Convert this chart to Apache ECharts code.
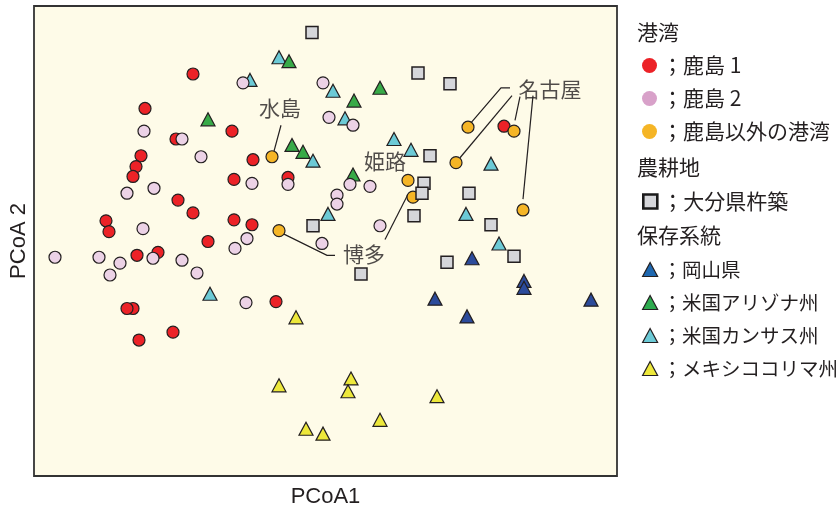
<!DOCTYPE html>
<html>
<head>
<meta charset="utf-8">
<script src="https://cdn.jsdelivr.net/npm/echarts@6/dist/echarts.min.js"></script>
<style>
  html, body { margin: 0; padding: 0; background: #ffffff; }
  #chart { width: 836px; height: 513px; }
</style>
</head>
<body>
<div id="chart"></div>
<script>
// PCoA scores (arbitrary units: axis 1 spans 0–583, axis 2 spans 0–477)
const kashima1 = [
  [159,408],[111,373],[198,350],[142,342],[107,325],[102,314],[99,304],[219,321],
  [144,280],[159,267],[200,301],[254,303],[72,259],[75,248],[200,260],[218,255],
  [174,238],[103,224],[124,227],[242,177],[99,170],[93,170],[139,146],[105,138],
  [470,355]
];
const kashima2 = [
  [110,350],[148,342],[167,324],[209,399],[289,399],[295,364],[319,356],[93,287],
  [120,292],[109,251],[218,297],[254,296],[316,296],[336,294],[303,285],[303,276],
  [346,254],[21,222],[65,222],[86,216],[76,204],[119,221],[148,219],[163,206],
  [213,241],[201,231],[288,236],[212,176]
];
const otherPorts = [
  [238,324],[374,300],[379,283],[245,249],[434,354],[422,318],[480,350],[489,270]
];
const kitsuki = [
  [278,450],[384,409],[416,398],[396,325],[390,297],[388,287],[435,287],[380,264],
  [279,254],[457,255],[480,223],[413,217],[327,205]
];
const okayama = [[438,221],[490,198],[490,191],[401,180],[557,179],[433,162]];
const arizona = [[174,362],[255,421],[320,381],[346,394],[258,336],[269,329],[319,306]];
const kansas = [
  [245,425],[216,402],[299,391],[311,363],[360,342],[377,331],[279,320],[457,317],
  [294,266],[432,266],[465,236],[176,185]
];
const colima = [[262,161],[245,92],[317,99],[314,86],[403,81],[346,57],[272,48],[289,43]];

// Port-name annotations and their leader lines (same units as the scores)
const placeNames = ['水島', '姫路', '博多', '名古屋'];
const placeAnchors = [[246,373],[351,320],[330,225],[516,393]];
const leaderLines = [
  [[247,356],[239,326]],
  [[476,394],[467,394],[435,356]],
  [[478,386],[426,323]],
  [[486,385],[481,361]],
  [[499,386],[489,281]],
  [[301,224],[293,224],[249,246]],
  [[351,240],[374,286]]
];

const INK = '#231f20';
const JP = '"Noto Sans CJK JP", "Noto Sans", sans-serif';

function pointSeries(name, data, symbol, size, color, z, border) {
  return {
    name, type: 'scatter', data, symbol, symbolSize: size, z,
    itemStyle: { color, borderColor: INK, borderWidth: border || 1.2, opacity: 1 },
    emphasis: { disabled: true }
  };
}

const chart = echarts.init(document.getElementById('chart'), null, { renderer: 'canvas' });

chart.setOption({
  backgroundColor: '#ffffff',
  animation: false,
  grid: {
    left: 34, right: 219, top: 6, bottom: 30,
    show: true, backgroundColor: '#fefbe8', borderColor: '#333333', borderWidth: 1.8
  },
  xAxis: {
    type: 'value', min: 0, max: 583,
    name: 'PCoA1', nameLocation: 'middle', nameGap: 10,
    nameTextStyle: { fontFamily: '"Liberation Sans", Arial, sans-serif', fontSize: 22, color: INK, verticalAlign: 'top' },
    axisLine: { show: false }, axisTick: { show: false }, axisLabel: { show: false }, splitLine: { show: false }
  },
  yAxis: {
    type: 'value', min: 0, max: 477,
    name: 'PCoA 2', nameLocation: 'middle', nameGap: 4,
    nameTextStyle: { fontFamily: '"Liberation Sans", Arial, sans-serif', fontSize: 22, color: INK },
    axisLine: { show: false }, axisTick: { show: false }, axisLabel: { show: false }, splitLine: { show: false }
  },
  legend: [
    {
      data: ['鹿島 1', { name: '鹿島 2', itemStyle: { color: '#d8a1c9' } }, '鹿島以外の港湾'],
      orient: 'vertical', left: 637, top: 50, itemWidth: 15, itemHeight: 15, itemGap: 12,
      itemStyle: { borderWidth: 0 }, selectedMode: false,
      textStyle: { fontFamily: JP, fontSize: 21, lineHeight: 21, color: INK },
      formatter: n => '；' + n
    },
    {
      data: ['大分県杵築'],
      orient: 'vertical', left: 637, top: 186, itemWidth: 14, itemHeight: 14,
      itemStyle: { borderWidth: 2.6, borderColor: '#1a1a1a' }, selectedMode: false,
      textStyle: { fontFamily: JP, fontSize: 21, lineHeight: 21, color: INK },
      formatter: n => '；' + n
    },
    {
      data: [
        { name: '岡山県', itemStyle: { color: '#1f68b0' } },
        { name: '米国アリゾナ州', itemStyle: { color: '#2eab4f' } },
        '米国カンサス州', 'メキシココリマ州'
      ],
      orient: 'vertical', left: 637, top: 254, itemWidth: 15, itemHeight: 14, itemGap: 12,
      itemStyle: { borderWidth: 1.2, borderColor: INK }, selectedMode: false,
      textStyle: { fontFamily: JP, fontSize: 19.5, lineHeight: 21, color: INK },
      formatter: n => '；' + n
    }
  ],
  graphic: [
    { type: 'text', x: 637, y: 32, style: { text: '港湾', fontSize: 21, fontFamily: JP, fill: INK, verticalAlign: 'middle' } },
    { type: 'text', x: 637, y: 167, style: { text: '農耕地', fontSize: 21, fontFamily: JP, fill: INK, verticalAlign: 'middle' } },
    { type: 'text', x: 637, y: 235, style: { text: '保存系統', fontSize: 21, fontFamily: JP, fill: INK, verticalAlign: 'middle' } }
  ],
  series: [
    {
      name: 'leaders', type: 'lines', coordinateSystem: 'cartesian2d', polyline: true, z: 1, silent: true,
      lineStyle: { color: INK, width: 1.2, opacity: 1 },
      data: leaderLines.map(c => ({ coords: c }))
    },
    {
      name: 'place names', type: 'scatter', z: 1, silent: true,
      symbol: 'circle', symbolSize: 1, itemStyle: { color: 'transparent' },
      data: placeNames.map((n, i) => ({ name: n, value: placeAnchors[i] })),
      label: { show: true, position: 'inside', formatter: p => p.name, fontFamily: JP, fontSize: 21, color: INK }
    },
    pointSeries('メキシココリマ州', colima, 'triangle', [14, 13], '#ede83b', 2),
    pointSeries('岡山県', okayama, 'triangle', [14, 13], '#2c4b9b', 2),
    pointSeries('米国カンサス州', kansas, 'triangle', [14, 13], '#6ccad6', 2),
    pointSeries('米国アリゾナ州', arizona, 'triangle', [14, 13], '#38aa48', 3),
    pointSeries('鹿島 1', kashima1, 'circle', 12, '#ec2227', 4),
    pointSeries('鹿島 2', kashima2, 'circle', 12, '#ecd2e6', 5),
    pointSeries('鹿島以外の港湾', otherPorts, 'circle', 12, '#f5b526', 6),
    pointSeries('大分県杵築', kitsuki, 'rect', 12, '#d5d6da', 7, 1.5)
  ]
});
</script>
</body>
</html>
